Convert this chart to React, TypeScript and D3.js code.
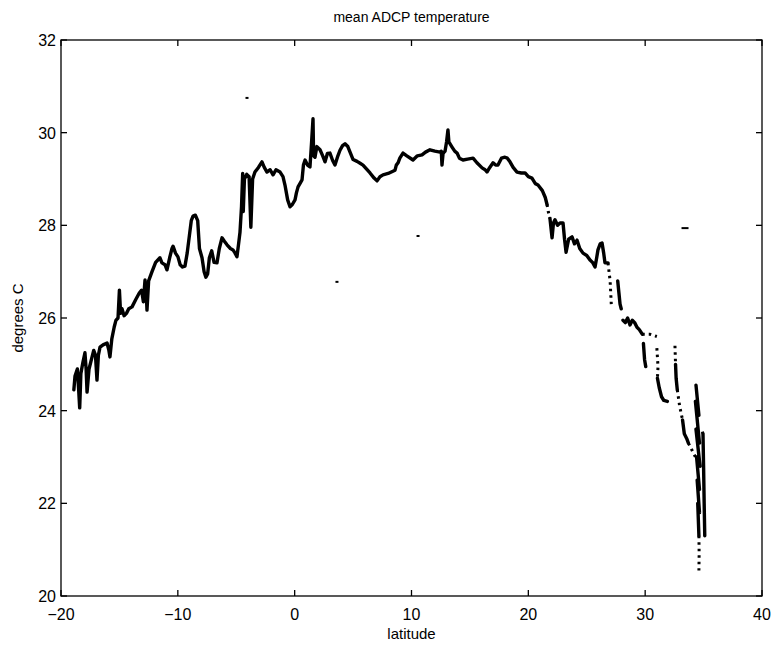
import React from 'react';
import * as d3 from 'd3';

// western part of the track, drawn as one solid line
const mainLat = [
  -18.9, -18.8, -18.6, -18.5, -18.4, -18.3, -18.12, -17.95, -17.85, -17.77, -17.6, -17.4, -17.2, -17.05,
  -16.92, -16.8, -16.66, -16.4, -16.06, -15.9, -15.81, -15.65, -15.45, -15.3, -15.12, -15.0, -14.9, -14.78,
  -14.6, -14.4, -14.2, -13.92, -13.6, -13.3, -13.1, -12.95, -12.81, -12.7, -12.64, -12.5, -12.21, -11.9,
  -11.53, -11.36, -11.1, -10.93, -10.7, -10.5, -10.41, -10.2, -9.99, -9.8, -9.6, -9.39, -9.2, -9.0, -8.85,
  -8.7, -8.5, -8.3, -8.15, -7.93, -7.75, -7.6, -7.45, -7.3, -7.1, -6.9, -6.65, -6.45, -6.22, -6.0, -5.79,
  -5.5, -5.28, -5.1, -4.94, -4.8, -4.68, -4.55, -4.45, -4.4, -4.3, -4.1, -3.9, -3.75, -3.6, -3.4, -3.1,
  -2.8, -2.6, -2.37, -2.1, -1.85, -1.6, -1.25, -1.0, -0.83, -0.6, -0.4, -0.2, 0.03, 0.15, 0.29, 0.45, 0.63,
  0.75, 0.89, 1.1, 1.31, 1.45, 1.57, 1.62, 1.74, 1.9, 2.17, 2.4, 2.6, 2.8, 3.02, 3.25, 3.45, 3.7, 3.88, 4.1,
  4.31, 4.55, 4.74, 5.0, 5.34, 5.6, 5.85, 6.2, 6.45, 6.8, 7.05, 7.3, 7.56, 8.0, 8.59, 8.7, 8.85, 9.0, 9.27,
  9.6, 10.13, 10.5, 10.9, 11.2, 11.58, 12.0, 12.44, 12.55, 12.61, 12.7, 12.87, 13.0, 13.12, 13.2, 13.47,
  13.7, 13.9, 14.1, 14.41, 14.8, 15.27, 15.6, 16.04, 16.3, 16.46, 16.7, 16.98, 17.2, 17.4, 17.7, 18.0, 18.2,
  18.43, 18.7, 19.03, 19.4, 19.72, 20.0, 20.31, 20.6, 20.83, 21.2, 21.45, 21.6,
];
const mainTemp = [
  24.45, 24.75, 24.9, 24.5, 24.06, 24.8, 25.05, 25.25, 24.9, 24.4, 24.9, 25.1, 25.3, 25.2,
  24.66, 25.2, 25.37, 25.42, 25.46, 25.3, 25.16, 25.55, 25.8, 25.95, 26.0, 26.6, 26.1, 26.2,
  26.05, 26.1, 26.2, 26.24, 26.4, 26.54, 26.6, 26.35, 26.82, 26.5, 26.17, 26.8, 27.0, 27.2,
  27.3, 27.19, 27.15, 27.04, 27.3, 27.5, 27.55, 27.4, 27.32, 27.15, 27.1, 27.12, 27.4, 27.8, 28.1,
  28.2, 28.22, 28.1, 27.5, 27.3, 27.0, 26.88, 26.95, 27.3, 27.45, 27.2, 27.19, 27.5, 27.73, 27.65, 27.58,
  27.5, 27.47, 27.4, 27.32, 27.6, 27.85, 28.4, 29.12, 28.3, 29.0, 29.1, 29.05, 27.96, 29.0, 29.15, 29.25,
  29.37, 29.25, 29.15, 29.2, 29.09, 29.2, 29.15, 29.05, 28.87, 28.55, 28.4, 28.45, 28.55, 28.7, 28.83, 28.9, 28.98,
  29.3, 29.41, 29.3, 29.26, 29.8, 30.3, 29.5, 29.47, 29.7, 29.63, 29.5, 29.37, 29.55, 29.56, 29.4, 29.3, 29.5, 29.62, 29.72,
  29.76, 29.7, 29.58, 29.42, 29.38, 29.34, 29.3, 29.2, 29.13, 29.02, 28.96, 29.05, 29.09, 29.12, 29.19, 29.3, 29.35, 29.45, 29.56,
  29.5, 29.41, 29.5, 29.52, 29.58, 29.63, 29.6, 29.58, 29.6, 29.3, 29.55, 29.6, 29.8, 30.06, 29.8, 29.69,
  29.6, 29.56, 29.45, 29.41, 29.43, 29.45, 29.35, 29.24, 29.2, 29.15, 29.25, 29.35, 29.3, 29.3, 29.45, 29.47, 29.45,
  29.37, 29.25, 29.15, 29.13, 29.13, 29.05, 29.02, 28.9, 28.87, 28.75, 28.6, 28.45,
];

// eastern part, solid pieces (NaN = break between pieces)
const eastLat = [
  21.85, 22.03, 22.15, 22.28, 22.5, 22.71, 22.97, 23.1, 23.23, 23.45, 23.74, 23.95, 24.17, 24.4,
  24.68, 25.0, 25.28, 25.5, 25.71, 25.85, 25.96, 26.15, 26.31, 26.45, 26.56, 26.82, NaN,
  27.65, 27.75, 27.85, 27.95, NaN,
  28.1, 28.3, 28.5, 28.7, 28.9, 29.1, 29.3, 29.5, 29.75, NaN,
  29.85, 29.95, 30.05, NaN, 31.05, 31.2, 31.4, 31.6, 31.9, NaN, 32.6, 32.65, 32.75, NaN,
  33.2, 33.35, 33.55, 33.7, NaN,
  34.35, 34.6, 34.3, 34.65, 34.35, 34.7, 34.4, 34.65, 34.45, 34.65, 34.5, 34.6, NaN,
  34.95, 35.0, 35.05, 35.1,
];
const eastTemp = [
  28.15, 27.73, 28.05, 28.12, 28.0, 28.05, 28.05, 27.7, 27.42, 27.7, 27.75, 27.6, 27.68, 27.5,
  27.4, 27.35, 27.25, 27.2, 27.1, 27.3, 27.47, 27.6, 27.62, 27.4, 27.19, 27.19, NaN,
  26.8, 26.55, 26.3, 26.2, NaN,
  25.95, 25.9, 26.0, 25.85, 25.95, 25.9, 25.8, 25.75, 25.65, NaN,
  25.45, 25.1, 24.95, NaN, 24.7, 24.5, 24.3, 24.22, 24.2, NaN, 25.0, 24.7, 24.45, NaN,
  23.8, 23.5, 23.4, 23.3, NaN,
  24.55, 23.9, 24.2, 23.3, 23.6, 22.8, 23.0, 22.3, 22.5, 21.8, 22.0, 21.3, NaN,
  23.5, 22.8, 22.0, 21.3,
];

// dotted stretches where the record is patchy (NaN = break)
const gapLat = [
  21.6, 21.7, 21.85, NaN, 26.82, 27.0, 27.1, NaN, 29.75, 30.4, 31.0, NaN, 31.0, 31.1, 31.05, NaN,
  32.55, 32.6, NaN, 32.75, 32.95, 33.2, NaN, 33.7, 34.0, 34.3, NaN, 34.6, 34.62, 34.6, NaN, 34.9, 34.95,
];
const gapTemp = [
  28.45, 28.3, 28.15, NaN, 27.19, 26.8, 26.3, NaN, 25.65, 25.65, 25.6, NaN, 25.35, 24.95, 24.7, NaN,
  25.4, 25.0, NaN, 24.45, 24.1, 23.8, NaN, 23.3, 23.15, 23.0, NaN, 21.3, 20.9, 20.55, NaN, 23.55, 23.5,
];

// lone specks in the plot area
const strayLat = [-4.08, 3.62, 10.56, 33.24];
const strayTemp = [30.75, 26.78, 27.77, 27.94];

const xTicks = [-20, -10, 0, 10, 20, 30, 40];
const yTicks = [20, 22, 24, 26, 28, 30, 32];

const W = 776, H = 647;
const left = 61, top = 40, right = 762, bottom = 596;
const font = '"Liberation Sans", Arial, sans-serif';

export default function App() {
  const x = d3.scaleLinear().domain([-20, 40]).range([left, right]);
  const y = d3.scaleLinear().domain([20, 32]).range([bottom, top]);

  const pairs = (a: number[], b: number[]) => a.map((v, i) => [v, b[i]] as [number, number]);

  const line = d3.line<[number, number]>()
    .defined(d => !isNaN(d[0]) && !isNaN(d[1]))
    .x(d => x(d[0]))
    .y(d => y(d[1]));

  const tick = 6;

  return (
    <svg width={W} height={H} style={{ position: 'absolute', left: 0, top: 0, background: '#fff' }}>
      <text x={(left + right) / 2} y={22} textAnchor="middle" fontFamily={font} fontSize={14}>
        mean ADCP temperature
      </text>

      <path d={line(pairs(gapLat, gapTemp)) || ''} fill="none" stroke="#000" strokeWidth={3} strokeDasharray="2.5,4" />
      <path d={line(pairs(mainLat, mainTemp)) || ''} fill="none" stroke="#000" strokeWidth={3.4} strokeLinejoin="round" strokeLinecap="round" />
      <path d={line(pairs(eastLat, eastTemp)) || ''} fill="none" stroke="#000" strokeWidth={3.4} strokeLinejoin="round" strokeLinecap="round" />
      {strayLat.map((v, i) => (
        <rect key={i} x={x(v) - 1.5} y={y(strayTemp[i]) - 1} width={i === 3 ? 7 : 3} height={2} fill="#000" />
      ))}

      <rect x={left} y={top} width={right - left} height={bottom - top} fill="none" stroke="#000" strokeWidth={1.3} />
      {xTicks.map(t => (
        <g key={t}>
          <line x1={x(t)} x2={x(t)} y1={bottom} y2={bottom - tick} stroke="#000" strokeWidth={1.3} />
          <line x1={x(t)} x2={x(t)} y1={top} y2={top + tick} stroke="#000" strokeWidth={1.3} />
          <text x={x(t)} y={620} textAnchor="middle" fontFamily={font} fontSize={16}>
            {t < 0 ? '\u2212' + Math.abs(t) : t}
          </text>
        </g>
      ))}
      {yTicks.map(t => (
        <g key={t}>
          <line x1={left} x2={left + tick} y1={y(t)} y2={y(t)} stroke="#000" strokeWidth={1.3} />
          <line x1={right} x2={right - tick} y1={y(t)} y2={y(t)} stroke="#000" strokeWidth={1.3} />
          <text x={left - 5} y={y(t) + 6} textAnchor="end" fontFamily={font} fontSize={16}>
            {t}
          </text>
        </g>
      ))}

      <text x={(left + right) / 2} y={639} textAnchor="middle" fontFamily={font} fontSize={15}>
        latitude
      </text>
      <text transform={`translate(23,${(top + bottom) / 2}) rotate(-90)`} textAnchor="middle" fontFamily={font} fontSize={15}>
        degrees C
      </text>
    </svg>
  );
}
